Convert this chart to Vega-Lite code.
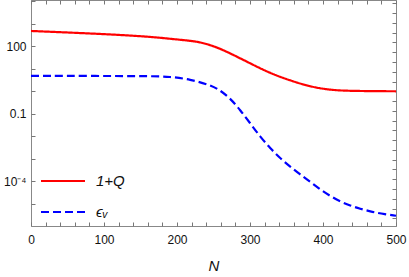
{
  "$schema": "https://vega.github.io/schema/vega-lite/v6.json",
  "width": 365,
  "height": 226,
  "autosize": "none",
  "padding": {"left": 31, "top": 0, "right": 13, "bottom": 51},
  "config": {
    "font": "Liberation Sans",
    "view": {"stroke": "#888", "strokeWidth": 1},
    "axis": {"domainColor": "#888", "tickColor": "#777", "labelColor": "#111", "labelFontSize": 12, "grid": false, "labelFont": "Liberation Sans"}
  },
  "datasets": {
    "q": [
      {"N": 0, "v": 479, "s": "1+Q"},
      {"N": 100, "v": 352, "s": "1+Q"},
      {"N": 163, "v": 267, "s": "1+Q"},
      {"N": 190.6, "v": 215, "s": "1+Q"},
      {"N": 218, "v": 177, "s": "1+Q"},
      {"N": 231.7, "v": 151, "s": "1+Q"},
      {"N": 245.4, "v": 114, "s": "1+Q"},
      {"N": 259, "v": 78, "s": "1+Q"},
      {"N": 272.8, "v": 48.9, "s": "1+Q"},
      {"N": 300.2, "v": 17.5, "s": "1+Q"},
      {"N": 327.7, "v": 6.31, "s": "1+Q"},
      {"N": 355, "v": 3.02, "s": "1+Q"},
      {"N": 382.5, "v": 1.6, "s": "1+Q"},
      {"N": 410, "v": 1.14, "s": "1+Q"},
      {"N": 437, "v": 1.03, "s": "1+Q"},
      {"N": 500, "v": 1.0, "s": "1+Q"}
    ],
    "e": [
      {"N": 0, "v": 4.8, "s": "ϵᵥ"},
      {"N": 163, "v": 4.8, "s": "ϵᵥ"},
      {"N": 190.6, "v": 4.46, "s": "ϵᵥ"},
      {"N": 218, "v": 3.41, "s": "ϵᵥ"},
      {"N": 245.4, "v": 1.9, "s": "ϵᵥ"},
      {"N": 259, "v": 1.12, "s": "ϵᵥ"},
      {"N": 272.8, "v": 0.49, "s": "ϵᵥ"},
      {"N": 286.5, "v": 0.148, "s": "ϵᵥ"},
      {"N": 300.2, "v": 0.038, "s": "ϵᵥ"},
      {"N": 313.9, "v": 0.0096, "s": "ϵᵥ"},
      {"N": 327.7, "v": 0.00295, "s": "ϵᵥ"},
      {"N": 341.4, "v": 0.00105, "s": "ϵᵥ"},
      {"N": 355.1, "v": 0.000447, "s": "ϵᵥ"},
      {"N": 368.8, "v": 0.0002, "s": "ϵᵥ"},
      {"N": 382.5, "v": 0.0000955, "s": "ϵᵥ"},
      {"N": 396, "v": 0.0000437, "s": "ϵᵥ"},
      {"N": 410, "v": 0.0000219, "s": "ϵᵥ"},
      {"N": 423.6, "v": 0.0000126, "s": "ϵᵥ"},
      {"N": 437.3, "v": 0.0000083, "s": "ϵᵥ"},
      {"N": 451, "v": 0.000006, "s": "ϵᵥ"},
      {"N": 464.8, "v": 0.00000457, "s": "ϵᵥ"},
      {"N": 478.5, "v": 0.0000037, "s": "ϵᵥ"},
      {"N": 500, "v": 0.00000295, "s": "ϵᵥ"}
    ]
  },
  "layer": [
    {
      "data": {"name": "q"},
      "mark": {"type": "line", "strokeWidth": 2.2, "interpolate": "basis"},
      "encoding": {
        "x": {
          "field": "N", "type": "quantitative",
          "scale": {"domain": [0, 500], "nice": false},
          "axis": {
            "orient": "bottom",
            "values": [0,20,40,60,80,100,120,140,160,180,200,220,240,260,280,300,320,340,360,380,400,420,440,460,480,500],
            "labelExpr": "datum.value % 100 === 0 ? datum.label : ''",
            "format": "d",
            "offset": -4,
            "tickSize": 4,
            "labelPadding": 8,
            "domain": false,
            "labelFlush": false,
            "title": "N",
            "titleFont": "Liberation Sans",
            "titleFontStyle": "italic",
            "titleFontWeight": "normal",
            "titleFontSize": 15,
            "titleColor": "#111",
            "titlePadding": 13
          }
        },
        "y": {
          "field": "v", "type": "quantitative",
          "scale": {"type": "log", "domain": [1.03e-6, 11400], "nice": false},
          "axis": {
            "orient": "left",
            "values": [0.000001, 0.00001, 0.0001, 0.001, 0.01, 0.1, 1, 10, 100, 1000, 10000],
            "labelExpr": "abs(log(datum.value)/LN10 - 2) < 0.01 ? '100' : (abs(log(datum.value)/LN10 + 1) < 0.01 ? '0.1' : (abs(log(datum.value)/LN10 + 4) < 0.01 ? '10⁻⁴' : ''))",
            "offset": -4,
            "tickSize": 4,
            "labelPadding": 5,
            "domain": false,
            "labelFlush": false,
            "title": null
          }
        },
        "color": {
          "field": "s", "type": "nominal",
          "scale": {"domain": ["1+Q", "ϵᵥ"], "range": ["#ff0000", "#0000ff"]},
          "legend": {
            "orient": "none", "legendX": 9, "legendY": 158, "title": null,
            "symbolType": "stroke", "symbolSize": 1936, "symbolStrokeWidth": 2,
            "labelFontSize": 15, "labelFontStyle": "italic", "labelFont": "Liberation Sans", "labelColor": "#111",
            "labelOffset": 10, "rowPadding": -22
          }
        },
        "strokeDash": {
          "field": "s", "type": "nominal",
          "scale": {"domain": ["1+Q", "ϵᵥ"], "range": [[1, 0], [8, 4]]},
          "legend": {
            "orient": "none", "legendX": 9, "legendY": 158, "title": null,
            "symbolType": "stroke", "symbolSize": 1936, "symbolStrokeWidth": 2,
            "labelFontSize": 15, "labelFontStyle": "italic", "labelFont": "Liberation Sans", "labelColor": "#111",
            "labelOffset": 10, "rowPadding": -22
          }
        }
      }
    },
    {
      "data": {"name": "e"},
      "mark": {"type": "line", "strokeWidth": 2.2, "interpolate": "basis"},
      "encoding": {
        "x": {
          "field": "N", "type": "quantitative",
          "axis": {
            "orient": "top",
            "values": [0,20,40,60,80,100,120,140,160,180,200,220,240,260,280,300,320,340,360,380,400,420,440,460,480,500],
            "labels": false,
            "offset": -4,
            "tickSize": 4,
            "domain": false,
            "title": null
          }
        },
        "y": {
          "field": "v", "type": "quantitative",
          "axis": {
            "orient": "right",
            "values": [2.2603e-6, 6.1442e-6, 1.6702e-5, 4.54e-5, 1.2341e-4, 3.3546e-4, 9.1188e-4, 2.4788e-3, 6.7379e-3, 0.018316, 0.049787, 0.135335, 0.367879, 1, 2.71828, 7.38906, 20.0855, 54.5982, 148.413, 403.429, 1096.63, 2980.96, 8103.08],
            "labels": false,
            "offset": -4,
            "tickSize": 4,
            "domain": false,
            "title": null
          }
        },
        "color": {"field": "s", "type": "nominal"},
        "strokeDash": {"field": "s", "type": "nominal"}
      }
    }
  ],
  "resolve": {"axis": {"x": "independent", "y": "independent"}}
}
